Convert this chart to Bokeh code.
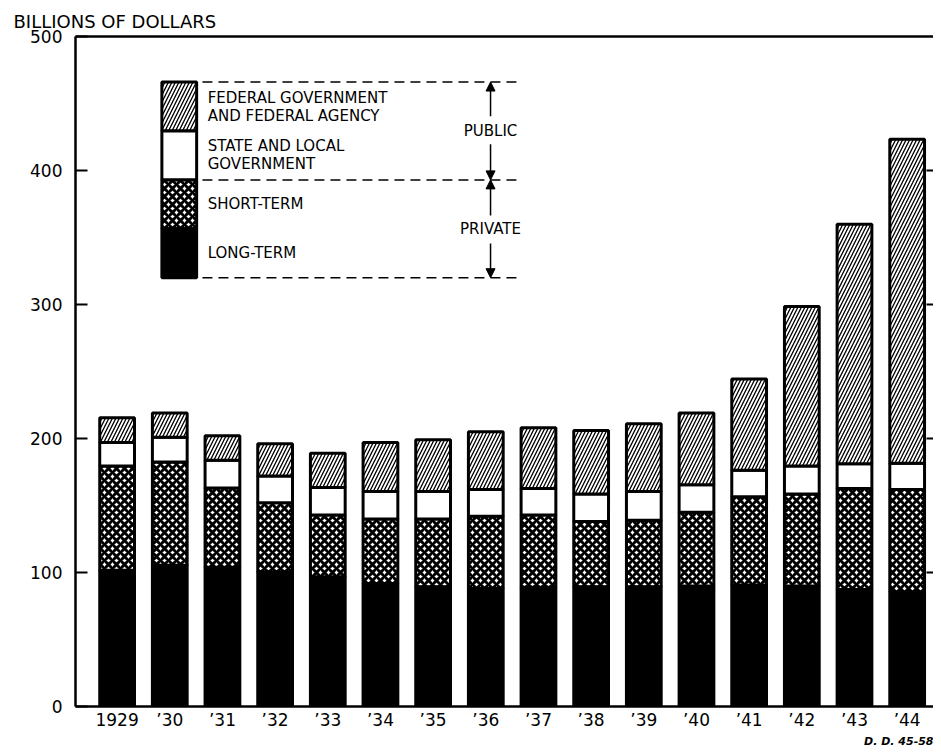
from bokeh.plotting import figure
from bokeh.models import Range1d, FixedTicker, LinearAxis, Title, Arrow, NormalHead, ColumnDataSource
from bokeh.core.properties import value
from bokeh.embed import file_html
from bokeh.resources import INLINE

# ---- data (billions of dollars) ----
years = ["1929", "’30", "’31", "’32", "’33", "’34", "’35", "’36",
         "’37", "’38", "’39", "’40", "’41", "’42", "’43", "’44"]
long_term = [101.7, 105.4, 104.0, 100.5, 96.8, 91.8, 89.4, 88.0,
             88.9, 89.4, 89.4, 89.9, 90.6, 89.9, 87.4, 85.7]
short_term = [77.8, 77.1, 59.0, 51.5, 46.2, 48.2, 50.6, 54.0,
              54.1, 48.6, 49.6, 55.1, 65.9, 68.6, 75.3, 76.3]
state_local = [17.5, 18.5, 20.7, 20.0, 20.5, 20.5, 20.5, 20.0,
               19.7, 20.5, 21.5, 20.4, 19.8, 21.0, 18.5, 19.5]
federal = [18.5, 18.0, 18.3, 24.0, 25.5, 36.5, 38.5, 43.0,
           45.3, 47.5, 50.5, 53.6, 68.1, 119.0, 178.6, 241.9]
y_ticks = [0, 100, 200, 300, 400, 500]
legend_labels = ["FEDERAL GOVERNMENT\nAND FEDERAL AGENCY",
                 "STATE AND LOCAL\nGOVERNMENT",
                 "SHORT-TERM",
                 "LONG-TERM"]
group_labels = ["PUBLIC", "PRIVATE"]
title_text = "BILLIONS OF DOLLARS"
code_text = "D. D. 45-58"

FONT = "DejaVu Sans"
x = list(range(len(years)))

src = ColumnDataSource(dict(x=x, long_term=long_term, short_term=short_term,
                            state_local=state_local, federal=federal))

p = figure(width=933, height=747, x_range=Range1d(-0.79, 15.5), y_range=Range1d(0, 500),
           output_backend="svg", toolbar_location=None,
           min_border_left=75, min_border_right=0, min_border_top=36, min_border_bottom=30)
p.background_fill_color = "white"
p.border_fill_color = "white"
p.outline_line_color = None
p.xgrid.visible = False
p.ygrid.visible = False

p.title.text = title_text
p.title.align = "left"
p.title.offset = -62
p.title.text_font = FONT
p.title.text_font_size = "18px"
p.title.text_font_style = "normal"
p.title.text_color = "black"
p.title.standoff = 9

BW = 0.66
stack = ["long_term", "short_term", "state_local", "federal"]
p.vbar_stack(stack, x="x", width=BW, source=src,
             fill_color=["black", "white", "white", "white"],
             hatch_pattern=[" ", "x", " ", "/"],
             hatch_color="black",
             hatch_weight=[1, 3, 1, 1.3],
             hatch_scale=[8, 8, 8, 7],
             line_color="black", line_width=3)

# axes
p.yaxis.ticker = FixedTicker(ticks=y_ticks)
p.yaxis.major_tick_in = 12
p.yaxis.major_tick_out = 0
p.yaxis.minor_tick_line_color = None
p.yaxis.axis_line_width = 2.5
p.yaxis.major_tick_line_width = 2
p.yaxis.major_label_text_font = FONT
p.yaxis.major_label_text_font_size = "17px"
p.yaxis.major_label_text_color = "black"
p.yaxis.major_label_standoff = 13

p.xaxis.ticker = FixedTicker(ticks=x)
p.xaxis.major_label_overrides = {i: yr for i, yr in zip(x, years)}
p.xaxis.major_tick_in = 0
p.xaxis.major_tick_out = 0
p.xaxis.minor_tick_line_color = None
p.xaxis.axis_line_width = 2.5
p.xaxis.major_label_text_font = FONT
p.xaxis.major_label_text_font_size = "17px"
p.xaxis.major_label_text_color = "black"
p.xaxis.major_label_standoff = 3

top_axis = LinearAxis(ticker=FixedTicker(ticks=[]), axis_line_width=2.5,
                      major_label_text_font_size="1px", major_label_standoff=0,
                      major_tick_out=0, minor_tick_out=0)
p.add_layout(top_axis, "above")
right_axis = LinearAxis(ticker=FixedTicker(ticks=y_ticks[1:-1]), axis_line_color=None,
                        major_label_text_font_size="1px", major_label_text_color=None,
                        major_label_standoff=0, major_tick_in=7, major_tick_out=0,
                        major_tick_line_width=2, minor_tick_line_color=None)
p.add_layout(right_axis, "right")

p.add_layout(Title(text=code_text, align="right", text_font=FONT, text_font_size="11px",
                   text_font_style="bold italic", text_color="black", standoff=0), "below")

# ---- legend (drawn) ----
lx = 1.18
lb = 320.0
step = 36.5
fills = ["white", "white", "white", "black"]
hatches = ["/", " ", "x", " "]
weights = [1.3, 1, 3, 1]
scales = [7, 8, 8, 8]
for i in range(4):
    y0 = lb + step * (3 - i)
    p.quad(left=lx - BW / 2, right=lx + BW / 2, bottom=y0, top=y0 + step,
           fill_color=fills[i], hatch_pattern=hatches[i], hatch_color="black",
           hatch_weight=weights[i], hatch_scale=scales[i],
           line_color="black", line_width=3)
    p.text(x=[1.72], y=[y0 + step / 2], text=[legend_labels[i]],
           text_font=value(FONT), text_font_size="15px", text_baseline="middle",
           text_align="left", text_line_height=1.0, text_color="black")

dash_ys = [lb + 4 * step, lb + 2 * step, lb]
p.segment(x0=[1.62] * 3, y0=dash_ys, x1=[7.6] * 3, y1=dash_ys,
          line_color="black", line_width=1.5, line_dash="10 6")

ax = 7.09
pub_y = lb + 3 * step
priv_y = lb + 1 * step
p.text(x=[ax, ax], y=[pub_y, priv_y], text=group_labels, text_font=value(FONT),
       text_font_size="15px", text_align="center", text_baseline="middle", text_color="black")
for (ys, ye) in [(pub_y + 11, lb + 4 * step), (pub_y - 10, lb + 2 * step),
                 (priv_y + 10, lb + 2 * step), (priv_y - 11, lb)]:
    p.add_layout(Arrow(end=NormalHead(size=9, fill_color="black", line_color="black", line_width=1),
                       x_start=ax, y_start=ys, x_end=ax, y_end=ye,
                       line_color="black", line_width=1.5))

open("out.html", "w").write(file_html(p, INLINE))
